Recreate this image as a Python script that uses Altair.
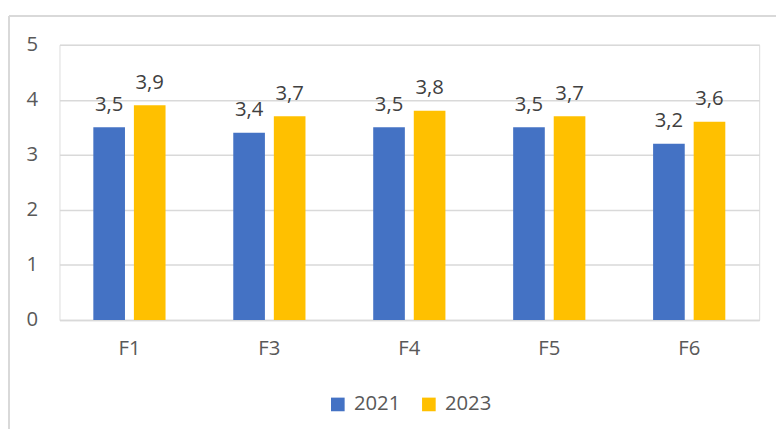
import altair as alt
import pandas as pd

categories = ["F1", "F3", "F4", "F5", "F6"]
values_2021 = [3.5, 3.4, 3.5, 3.5, 3.2]
values_2023 = [3.9, 3.7, 3.8, 3.7, 3.6]
series = ["2021", "2023"]
colors = ["#4472C4", "#FFC000"]

rows = []
for c, a, b in zip(categories, values_2021, values_2023):
    rows.append({"cat": c, "year": "2021", "value": a})
    rows.append({"cat": c, "year": "2023", "value": b})
df = pd.DataFrame(rows)

FONT = "Open Sans"
FS = 20.5
TXT = "#595959"
GRID = "#D9D9D9"

base = alt.Chart(df).encode(
    x=alt.X("cat:N", sort=categories, title=None,
            scale=alt.Scale(paddingInner=0.484, paddingOuter=0.242),
            axis=alt.Axis(labelAngle=0, labelFont=FONT, labelFontSize=FS, labelColor=TXT,
                          ticks=False, domainColor=GRID, domainWidth=1.5, labelPadding=19)),
    xOffset=alt.XOffset("year:N", sort=series, scale=alt.Scale(paddingInner=0.22, paddingOuter=0)),
)

bars = base.mark_bar().encode(
    y=alt.Y("value:Q", title=None,
            scale=alt.Scale(domain=[0, 5], nice=False),
            axis=alt.Axis(values=[0, 1, 2, 3, 4, 5], format="d", labelFont=FONT, labelFontSize=FS,
                          labelColor=TXT, ticks=False, domain=False, gridColor=GRID,
                          gridWidth=1.5, labelPadding=22)),
    color=alt.Color("year:N", sort=series, scale=alt.Scale(domain=series, range=colors),
                    legend=alt.Legend(title=None, orient="none", direction="horizontal",
                                      legendX=271, legendY=353, symbolType="square",
                                      symbolSize=190, symbolStrokeWidth=0, labelFont=FONT,
                                      labelFontSize=FS, labelColor=TXT, labelOffset=6,
                                      columnPadding=18, padding=0)),
)

labels = base.mark_text(font=FONT, fontSize=FS, color="#404040", baseline="alphabetic", dy=-17).encode(
    y=alt.Y("value:Q"),
    text=alt.Text("label:N"),
).transform_calculate(label="replace(format(datum.value, '.1f'), '.', ',')")

frame = pd.DataFrame({"d": [0]})
top_line = alt.Chart(frame).mark_rule(color=GRID, strokeWidth=2).encode(
    x=alt.value(-51), x2=alt.value(760), y=alt.value(-29))
left_line = alt.Chart(frame).mark_rule(color=GRID, strokeWidth=2).encode(
    x=alt.value(-51), y=alt.value(-29), y2=alt.value(420))

chart = alt.layer(top_line, left_line, bars, labels).properties(
    width=707, height=278,
    autosize=alt.AutoSizeParams(type="none"),
    padding={"left": 52, "top": 35, "right": 17, "bottom": 108},
).configure_view(stroke=None).configure(background="white")

chart.save("out.html", embed_options={"renderer": "svg", "actions": False})
